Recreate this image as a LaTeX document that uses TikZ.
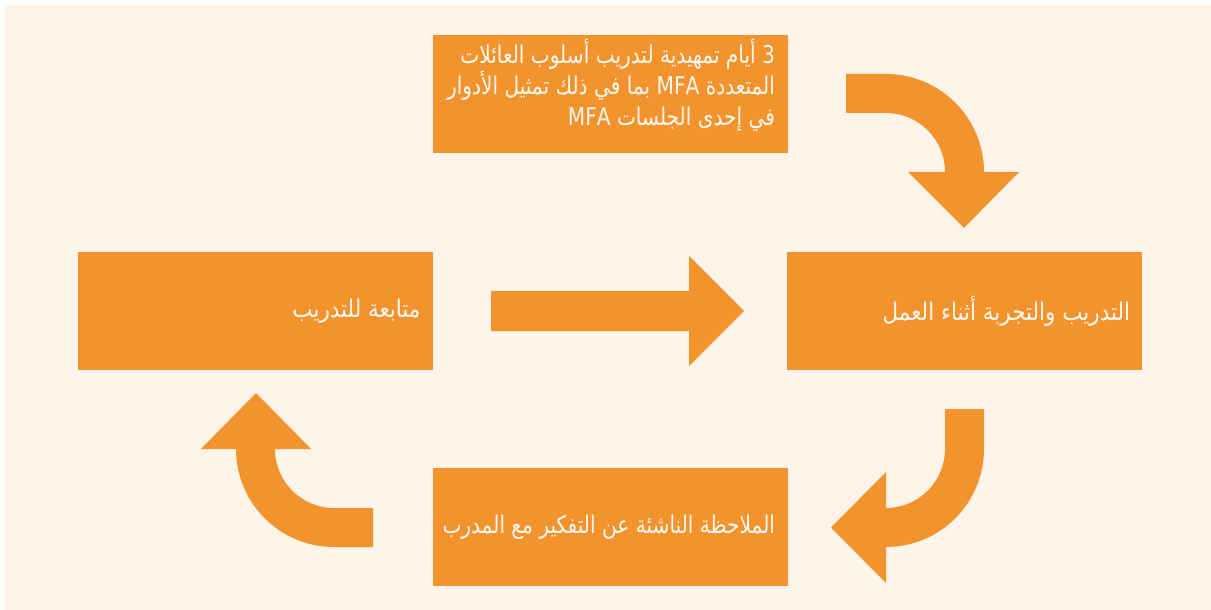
\documentclass[tikz,border=0pt]{standalone}
\usepackage{fontspec}
\TeXXeTstate=1
\newfontfamily\arabicfont[Script=Arabic,FakeStretch=0.88]{DejaVu Sans}
\newfontfamily\arabicnarrow[Script=Arabic,FakeStretch=0.825]{DejaVu Sans}
\definecolor{boxorange}{HTML}{F2932E}
\definecolor{paper}{HTML}{FEF4E9}
\definecolor{labelcol}{HTML}{FFF8F0}

\begin{document}
\begin{tikzpicture}[x=0.5pt,y=-0.5pt,
  stepbox/.style={fill=boxorange, draw=none, inner sep=0pt,
    minimum width=177.5pt, minimum height=59pt},
  steptext/.style={text=labelcol, inner sep=0pt, align=right,
    font=\arabicfont\fontsize{12.2}{15.5}\selectfont},
  widetext/.style={steptext, font=\arabicnarrow\fontsize{12.2}{15.5}\selectfont},
  blockarrow/.style={fill=boxorange, draw=none}]

% page and paper
\useasboundingbox (0,0) rectangle (1211,610);
\fill[white] (0,0) rectangle (1211,610);
\fill[paper] (5,5) rectangle (1211,610);

% the four stages
\node[stepbox] (prep)    at (610.5,94.5) {};
\node[stepbox] (work)    at (964.5,311)  {};
\node[stepbox] (follow)  at (255,311)    {};
\node[stepbox] (reflect) at (610.5,527)  {};

\node[widetext, anchor=north east] (prepText) at ([xshift=-6.5pt,yshift=-2pt]prep.north east)
  {\beginR 3 أيام تمهيدية لتدريب أسلوب العائلات\endR\\
   \beginR المتعددة MFA بما في ذلك تمثيل الأدوار\endR\\
   \beginR في إحدى الجلسات MFA\endR};
\node[steptext, anchor=east] (workText) at ([xshift=-6pt]work.east)
  {\beginR التدريب والتجربة أثناء العمل\endR};
\node[steptext, anchor=east] (followText) at ([xshift=-6pt]follow.east)
  {\beginR متابعة للتدريب\endR};
\node[widetext, anchor=east] (reflectText) at ([xshift=-6.5pt]reflect.east)
  {\beginR الملاحظة الناشئة عن التفكير مع المدرب\endR};

% straight arrow from follow-up to on-the-job training
\fill[blockarrow] (491,291) -- (689,291) -- (689,256) -- (744,311)
  -- (689,366) -- (689,331) -- (491,331) -- cycle;

% bent arrow from preparation down to on-the-job training
\fill[blockarrow] (846,74) -- (886,74) arc[start angle=-90, end angle=0, radius=98]
  -- (1019,172) -- (964,228) -- (908,172) -- (945,172)
  arc[start angle=0, end angle=-90, radius=59] -- (846,113) -- cycle;

% bent arrow from on-the-job training to reflection
\fill[blockarrow] (945,409) -- (984,409) -- (984,449)
  arc[start angle=0, end angle=90, radius=98]
  -- (886,583) -- (831,527.5) -- (886,472) -- (886,508)
  arc[start angle=90, end angle=0, radius=59] -- cycle;

% bent arrow from reflection up to follow-up
\fill[blockarrow] (373,508) -- (373,547) -- (334,547)
  arc[start angle=90, end angle=180, radius=98]
  -- (201,449) -- (256,393) -- (311,449) -- (275,449)
  arc[start angle=180, end angle=90, radius=59] -- cycle;
\end{tikzpicture}
\end{document}
